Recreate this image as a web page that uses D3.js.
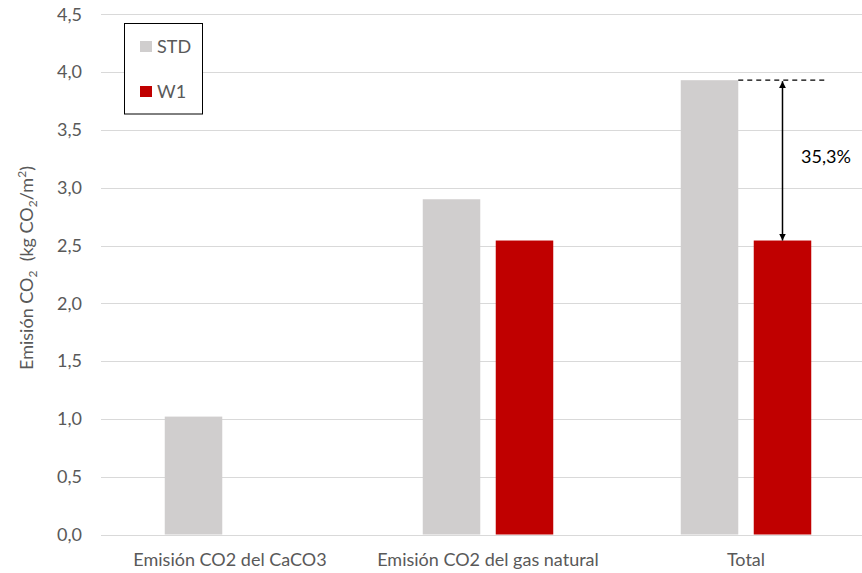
<!DOCTYPE html>
<html>
<head>
<meta charset="utf-8">
<script src="https://cdn.jsdelivr.net/npm/d3@7"></script>
<style>
  html, body { margin: 0; padding: 0; background: #fff; }
  svg { display: block; font-family: Lato, "Open Sans", sans-serif; }
</style>
</head>
<body>
<svg id="chart" width="862" height="573"></svg>
<script>
// Emisiones de CO2 por origen, producto estándar (STD) frente a W1
const categories = ["Emisión CO2 del CaCO3", "Emisión CO2 del gas natural", "Total"];
const seriesNames = ["STD", "W1"];
const stdValues = [1.02, 2.90, 3.93];
const w1Values = [0, 2.543, 2.543];
const yTicks = [0, 0.5, 1.0, 1.5, 2.0, 2.5, 3.0, 3.5, 4.0, 4.5];
const colors = ["#D0CECE", "#C00000"];

const svg = d3.select("#chart");
const textColor = "#595959";
const fontSize = "18px";
const fmt = v => d3.format(".1f")(v).replace(".", ",");

const y = d3.scaleLinear().domain([0, 4.5]).range([534.5, 14.3]);
const x0 = d3.scaleBand().domain(categories).range([101, 875]).paddingInner(0).paddingOuter(0);
const groupW = 130.5;
const x1 = d3.scaleBand().domain(seriesNames).range([0, groupW]).paddingInner(0.212).paddingOuter(0);

// Líneas de cuadrícula horizontales
svg.append("g")
  .selectAll("line")
  .data(yTicks)
  .join("line")
  .attr("x1", 101).attr("x2", 862)
  .attr("y1", d => Math.round(y(d)) + 0.5)
  .attr("y2", d => Math.round(y(d)) + 0.5)
  .attr("stroke", "#D9D9D9")
  .attr("stroke-width", 1);

// Eje Y (solo etiquetas)
const yAxis = svg.append("g")
  .attr("transform", "translate(87,0)")
  .call(d3.axisLeft(y).tickValues(yTicks).tickFormat(fmt).tickSize(0).tickPadding(5));
yAxis.select(".domain").remove();
yAxis.selectAll("text")
  .attr("fill", textColor)
  .style("font-size", fontSize)
  .style("font-family", "Lato, 'Open Sans', sans-serif");

// Eje X (etiquetas de categoría)
const xAxis = svg.append("g")
  .attr("transform", "translate(0,534.5)")
  .call(d3.axisBottom(x0).tickSize(0).tickPadding(19));
xAxis.select(".domain").remove();
xAxis.selectAll("text")
  .attr("fill", textColor)
  .style("font-size", fontSize)
  .style("font-family", "Lato, 'Open Sans', sans-serif");

// Barras
const rows = categories.map((c, i) => ({ cat: c, vals: [stdValues[i], w1Values[i]] }));
const groups = svg.append("g")
  .selectAll("g")
  .data(rows)
  .join("g")
  .attr("transform", d => `translate(${x0(d.cat) + (x0.bandwidth() - groupW) / 2},0)`);

groups.selectAll("rect")
  .data(d => d.vals.map((v, j) => ({ key: seriesNames[j], v, j })))
  .join("rect")
  .attr("x", d => x1(d.key))
  .attr("width", x1.bandwidth())
  .attr("y", d => y(d.v))
  .attr("height", d => y(0) - y(d.v))
  .attr("fill", d => colors[d.j]);

// Anotación de la reducción en el total
const iT = categories.indexOf("Total");
const gT = x0("Total") + (x0.bandwidth() - groupW) / 2;
const stdRight = gT + x1("STD") + x1.bandwidth();
const w1Center = gT + x1("W1") + x1.bandwidth() / 2;
const yTop = y(stdValues[iT]);
const yBot = y(w1Values[iT]);

svg.append("line")
  .attr("x1", stdRight).attr("x2", 827)
  .attr("y1", yTop).attr("y2", yTop)
  .attr("stroke", "#000").attr("stroke-width", 1.3)
  .attr("stroke-dasharray", "5,4");

const defs = svg.append("defs");
defs.append("marker")
  .attr("id", "arrowHead")
  .attr("viewBox", "0 0 10 10")
  .attr("refX", 10).attr("refY", 5)
  .attr("markerWidth", 7).attr("markerHeight", 8)
  .attr("markerUnits", "userSpaceOnUse")
  .attr("orient", "auto-start-reverse")
  .append("path")
  .attr("d", "M0,0 L10,5 L0,10 Z")
  .attr("fill", "#000");

svg.append("line")
  .attr("x1", w1Center).attr("x2", w1Center)
  .attr("y1", yTop + 1).attr("y2", yBot)
  .attr("stroke", "#000").attr("stroke-width", 1.5)
  .attr("marker-start", "url(#arrowHead)")
  .attr("marker-end", "url(#arrowHead)");

const pct = (stdValues[iT] - w1Values[iT]) / stdValues[iT] * 100;
svg.append("text")
  .attr("x", 801).attr("y", 163)
  .attr("fill", "#000")
  .style("font-size", fontSize)
  .text(d3.format(".1f")(pct).replace(".", ",") + "%");

// Título del eje Y con subíndices
const yTitle = svg.append("text")
  .attr("transform", "translate(33,268) rotate(-90)")
  .attr("text-anchor", "middle")
  .attr("fill", textColor)
  .style("font-size", fontSize);
yTitle.append("tspan").text("Emisión CO");
yTitle.append("tspan").attr("dy", 4).style("font-size", "12px").text("2");
yTitle.append("tspan").attr("dy", -4).text("\u00a0 (kg CO");
yTitle.append("tspan").attr("dy", 4).style("font-size", "12px").text("2");
yTitle.append("tspan").attr("dy", -4).text("/m");
yTitle.append("tspan").attr("dy", -7).style("font-size", "12px").text("2");
yTitle.append("tspan").attr("dy", 7).text(")");

// Leyenda
const legend = svg.append("g");
legend.append("rect")
  .attr("x", 124.5).attr("y", 23.5).attr("width", 78).attr("height", 90.5)
  .attr("fill", "#fff").attr("stroke", "#000").attr("stroke-width", 1);
const legendItems = legend.selectAll("g.item")
  .data(seriesNames)
  .join("g")
  .attr("class", "item")
  .attr("transform", (d, i) => `translate(140,${41 + i * 45})`);
legendItems.append("rect")
  .attr("width", 12).attr("height", 11)
  .attr("fill", (d, i) => colors[i]);
legendItems.append("text")
  .attr("x", 17).attr("y", 12)
  .attr("fill", textColor)
  .style("font-size", fontSize)
  .text(d => d);
</script>
</body>
</html>
